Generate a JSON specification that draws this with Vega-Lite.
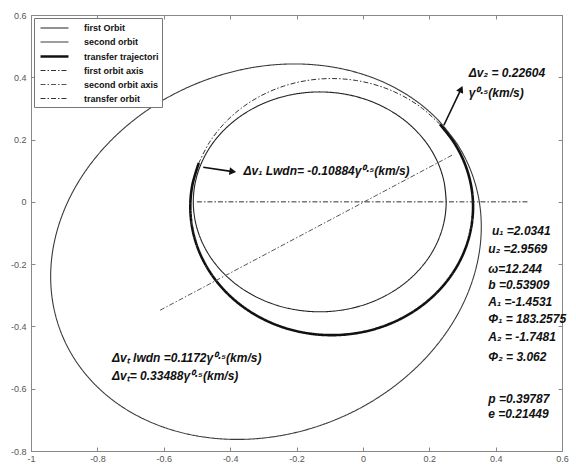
{
  "$schema": "https://vega.github.io/schema/vega-lite/v6.json",
  "width": 531,
  "height": 436,
  "autosize": {"type": "none"},
  "padding": {"left": 31, "top": 15, "right": 14, "bottom": 13},
  "background": "white",
  "config": {
    "view": {"stroke": "#888", "strokeWidth": 1},
    "font": "Liberation Sans",
    "legend": {
      "orient": "top-left", "offset": 3, "symbolType": "M-2.33,0H2.33", "symbolSize": 144,
      "symbolOffset": 10, "labelOffset": 22,
      "labelFont": "Liberation Sans", "labelFontSize": 9, "labelFontWeight": "bold", "labelColor": "#111",
      "fillColor": "white", "strokeColor": "#777", "padding": 3, "rowPadding": 2
    }
  },
  "datasets": {
    "orbits": [
      {"s": "second orbit", "i": 0, "x": 0.287, "y": 0.181},
      {"s": "second orbit", "i": 1, "x": 0.2274, "y": 0.2621},
      {"s": "second orbit", "i": 2, "x": 0.152, "y": 0.3304},
      {"s": "second orbit", "i": 3, "x": 0.063, "y": 0.3839},
      {"s": "second orbit", "i": 4, "x": -0.0367, "y": 0.4207},
      {"s": "second orbit", "i": 5, "x": -0.1441, "y": 0.44},
      {"s": "second orbit", "i": 6, "x": -0.2561, "y": 0.441},
      {"s": "second orbit", "i": 7, "x": -0.3691, "y": 0.4237},
      {"s": "second orbit", "i": 8, "x": -0.4798, "y": 0.3887},
      {"s": "second orbit", "i": 9, "x": -0.5848, "y": 0.3371},
      {"s": "second orbit", "i": 10, "x": -0.6808, "y": 0.2703},
      {"s": "second orbit", "i": 11, "x": -0.7651, "y": 0.1905},
      {"s": "second orbit", "i": 12, "x": -0.8351, "y": 0.1},
      {"s": "second orbit", "i": 13, "x": -0.8885, "y": 0.0016},
      {"s": "second orbit", "i": 14, "x": -0.9237, "y": -0.1017},
      {"s": "second orbit", "i": 15, "x": -0.9398, "y": -0.2067},
      {"s": "second orbit", "i": 16, "x": -0.9362, "y": -0.3104},
      {"s": "second orbit", "i": 17, "x": -0.913, "y": -0.4095},
      {"s": "second orbit", "i": 18, "x": -0.871, "y": -0.501},
      {"s": "second orbit", "i": 19, "x": -0.8114, "y": -0.5821},
      {"s": "second orbit", "i": 20, "x": -0.736, "y": -0.6504},
      {"s": "second orbit", "i": 21, "x": -0.647, "y": -0.7039},
      {"s": "second orbit", "i": 22, "x": -0.5473, "y": -0.7407},
      {"s": "second orbit", "i": 23, "x": -0.4399, "y": -0.76},
      {"s": "second orbit", "i": 24, "x": -0.3279, "y": -0.761},
      {"s": "second orbit", "i": 25, "x": -0.2149, "y": -0.7437},
      {"s": "second orbit", "i": 26, "x": -0.1042, "y": -0.7087},
      {"s": "second orbit", "i": 27, "x": 0.0008, "y": -0.6571},
      {"s": "second orbit", "i": 28, "x": 0.0968, "y": -0.5903},
      {"s": "second orbit", "i": 29, "x": 0.1811, "y": -0.5105},
      {"s": "second orbit", "i": 30, "x": 0.2511, "y": -0.42},
      {"s": "second orbit", "i": 31, "x": 0.3045, "y": -0.3216},
      {"s": "second orbit", "i": 32, "x": 0.3397, "y": -0.2183},
      {"s": "second orbit", "i": 33, "x": 0.3558, "y": -0.1133},
      {"s": "second orbit", "i": 34, "x": 0.3522, "y": -0.0096},
      {"s": "second orbit", "i": 35, "x": 0.329, "y": 0.0895},
      {"s": "second orbit", "i": 36, "x": 0.287, "y": 0.181},
      {"s": "second orbit", "i": 37, "x": 0.2274, "y": 0.2621},

      {"s": "first Orbit", "i": 0, "x": 0.251, "y": 0},
      {"s": "first Orbit", "i": 1, "x": 0.2452, "y": 0.0613},
      {"s": "first Orbit", "i": 2, "x": 0.228, "y": 0.1207},
      {"s": "first Orbit", "i": 3, "x": 0.2, "y": 0.1765},
      {"s": "first Orbit", "i": 4, "x": 0.1618, "y": 0.2269},
      {"s": "first Orbit", "i": 5, "x": 0.1149, "y": 0.2704},
      {"s": "first Orbit", "i": 6, "x": 0.0605, "y": 0.3057},
      {"s": "first Orbit", "i": 7, "x": 0.0003, "y": 0.3317},
      {"s": "first Orbit", "i": 8, "x": -0.0639, "y": 0.3476},
      {"s": "first Orbit", "i": 9, "x": -0.13, "y": 0.353},
      {"s": "first Orbit", "i": 10, "x": -0.1961, "y": 0.3476},
      {"s": "first Orbit", "i": 11, "x": -0.2603, "y": 0.3317},
      {"s": "first Orbit", "i": 12, "x": -0.3205, "y": 0.3057},
      {"s": "first Orbit", "i": 13, "x": -0.3749, "y": 0.2704},
      {"s": "first Orbit", "i": 14, "x": -0.4218, "y": 0.2269},
      {"s": "first Orbit", "i": 15, "x": -0.46, "y": 0.1765},
      {"s": "first Orbit", "i": 16, "x": -0.488, "y": 0.1207},
      {"s": "first Orbit", "i": 17, "x": -0.5052, "y": 0.0613},
      {"s": "first Orbit", "i": 18, "x": -0.511, "y": 0},
      {"s": "first Orbit", "i": 19, "x": -0.5052, "y": -0.0613},
      {"s": "first Orbit", "i": 20, "x": -0.488, "y": -0.1207},
      {"s": "first Orbit", "i": 21, "x": -0.46, "y": -0.1765},
      {"s": "first Orbit", "i": 22, "x": -0.4218, "y": -0.2269},
      {"s": "first Orbit", "i": 23, "x": -0.3749, "y": -0.2704},
      {"s": "first Orbit", "i": 24, "x": -0.3205, "y": -0.3057},
      {"s": "first Orbit", "i": 25, "x": -0.2603, "y": -0.3317},
      {"s": "first Orbit", "i": 26, "x": -0.1961, "y": -0.3476},
      {"s": "first Orbit", "i": 27, "x": -0.13, "y": -0.353},
      {"s": "first Orbit", "i": 28, "x": -0.0639, "y": -0.3476},
      {"s": "first Orbit", "i": 29, "x": 0.0003, "y": -0.3317},
      {"s": "first Orbit", "i": 30, "x": 0.0605, "y": -0.3057},
      {"s": "first Orbit", "i": 31, "x": 0.1149, "y": -0.2704},
      {"s": "first Orbit", "i": 32, "x": 0.1618, "y": -0.2269},
      {"s": "first Orbit", "i": 33, "x": 0.2, "y": -0.1765},
      {"s": "first Orbit", "i": 34, "x": 0.228, "y": -0.1207},
      {"s": "first Orbit", "i": 35, "x": 0.2452, "y": -0.0613},
      {"s": "first Orbit", "i": 36, "x": 0.251, "y": 0},
      {"s": "first Orbit", "i": 37, "x": 0.2452, "y": 0.0613},

      {"s": "transfer trajectori", "i": 0, "x": -0.4943, "y": 0.1249},
      {"s": "transfer trajectori", "i": 1, "x": -0.5135, "y": 0.0555},
      {"s": "transfer trajectori", "i": 2, "x": -0.52, "y": -0.016},
      {"s": "transfer trajectori", "i": 3, "x": -0.5135, "y": -0.0875},
      {"s": "transfer trajectori", "i": 4, "x": -0.4943, "y": -0.1569},
      {"s": "transfer trajectori", "i": 5, "x": -0.4629, "y": -0.222},
      {"s": "transfer trajectori", "i": 6, "x": -0.4203, "y": -0.2808},
      {"s": "transfer trajectori", "i": 7, "x": -0.3678, "y": -0.3316},
      {"s": "transfer trajectori", "i": 8, "x": -0.307, "y": -0.3728},
      {"s": "transfer trajectori", "i": 9, "x": -0.2397, "y": -0.4032},
      {"s": "transfer trajectori", "i": 10, "x": -0.168, "y": -0.4217},
      {"s": "transfer trajectori", "i": 11, "x": -0.094, "y": -0.428},
      {"s": "transfer trajectori", "i": 12, "x": -0.02, "y": -0.4217},
      {"s": "transfer trajectori", "i": 13, "x": 0.0517, "y": -0.4032},
      {"s": "transfer trajectori", "i": 14, "x": 0.119, "y": -0.3728},
      {"s": "transfer trajectori", "i": 15, "x": 0.1798, "y": -0.3316},
      {"s": "transfer trajectori", "i": 16, "x": 0.2323, "y": -0.2808},
      {"s": "transfer trajectori", "i": 17, "x": 0.2749, "y": -0.222},
      {"s": "transfer trajectori", "i": 18, "x": 0.3063, "y": -0.1569},
      {"s": "transfer trajectori", "i": 19, "x": 0.3255, "y": -0.0875},
      {"s": "transfer trajectori", "i": 20, "x": 0.332, "y": -0.016},
      {"s": "transfer trajectori", "i": 21, "x": 0.3255, "y": 0.0555},
      {"s": "transfer trajectori", "i": 22, "x": 0.3063, "y": 0.1249},
      {"s": "transfer trajectori", "i": 23, "x": 0.2749, "y": 0.19},
      {"s": "transfer trajectori", "i": 24, "x": 0.2323, "y": 0.2488},

      {"s": "first orbit axis", "i": 0, "x": -0.5, "y": 0},
      {"s": "first orbit axis", "i": 1, "x": 0.5, "y": 0},

      {"s": "second orbit axis", "i": 0, "x": -0.611, "y": -0.348},
      {"s": "second orbit axis", "i": 1, "x": 0.269, "y": 0.15},

      {"s": "transfer orbit", "i": 0, "x": 0.2323, "y": 0.2488},
      {"s": "transfer orbit", "i": 1, "x": 0.1798, "y": 0.2996},
      {"s": "transfer orbit", "i": 2, "x": 0.119, "y": 0.3408},
      {"s": "transfer orbit", "i": 3, "x": 0.0517, "y": 0.3712},
      {"s": "transfer orbit", "i": 4, "x": -0.02, "y": 0.3897},
      {"s": "transfer orbit", "i": 5, "x": -0.094, "y": 0.396},
      {"s": "transfer orbit", "i": 6, "x": -0.168, "y": 0.3897},
      {"s": "transfer orbit", "i": 7, "x": -0.2397, "y": 0.3712},
      {"s": "transfer orbit", "i": 8, "x": -0.307, "y": 0.3408},
      {"s": "transfer orbit", "i": 9, "x": -0.3678, "y": 0.2996},
      {"s": "transfer orbit", "i": 10, "x": -0.4203, "y": 0.2488},
      {"s": "transfer orbit", "i": 11, "x": -0.4629, "y": 0.19},
      {"s": "transfer orbit", "i": 12, "x": -0.4943, "y": 0.1249}
    ],
    "arrows": [
      {"x": -0.481, "y": 0.111, "x2": -0.397, "y2": 0.098},
      {"x": 0.244, "y": 0.246, "x2": 0.294, "y2": 0.358}
    ],
    "notes": [
      {"x": -0.36, "y": 0.1, "t": "Δv₁ Lwdn= -0.10884γ⁰·⁵(km/s)"},
      {"x": 0.319, "y": 0.413, "t": "Δv₂ = 0.22604"},
      {"x": 0.319, "y": 0.349, "t": "γ⁰·⁵(km/s)"},
      {"x": -0.756, "y": -0.502, "t": "Δvₜ lwdn =0.1172γ⁰·⁵(km/s)"},
      {"x": -0.756, "y": -0.56, "t": "Δvₜ= 0.33488γ⁰·⁵(km/s)"},
      {"x": 0.389, "y": -0.094, "t": "u₁ =2.0341"},
      {"x": 0.378, "y": -0.15, "t": "u₂ =2.9569"},
      {"x": 0.378, "y": -0.217, "t": "ω=12.244"},
      {"x": 0.378, "y": -0.268, "t": "b =0.53909"},
      {"x": 0.378, "y": -0.321, "t": "A₁ =-1.4531"},
      {"x": 0.378, "y": -0.375, "t": "Φ₁ = 183.2575"},
      {"x": 0.378, "y": -0.434, "t": "A₂ = -1.7481"},
      {"x": 0.378, "y": -0.498, "t": "Φ₂ = 3.062"},
      {"x": 0.378, "y": -0.632, "t": "p =0.39787"},
      {"x": 0.378, "y": -0.68, "t": "e =0.21449"}
    ]
  },
  "layer": [
    {
      "data": {"name": "orbits"},
      "mark": {"type": "line", "strokeCap": "butt", "interpolate": "catmull-rom"},
      "encoding": {
        "x": {"field": "x", "type": "quantitative", "scale": {"domain": [-1, 0.6], "nice": false, "zero": false},
          "axis": {"orient": "bottom", "title": null, "grid": false, "values": [-1, -0.8, -0.6, -0.4, -0.2, 0, 0.2, 0.4, 0.6], "format": "~g",
            "labelExpr": "replace(datum.label, '−', '-')", "domainColor": "#888", "tickColor": "#888", "tickSize": -4,
            "labelColor": "#555", "labelFontSize": 9, "labelPadding": 7, "labelFlush": false, "labelOverlap": false}},
        "y": {"field": "y", "type": "quantitative", "scale": {"domain": [-0.8, 0.6], "nice": false, "zero": false},
          "axis": {"orient": "left", "title": null, "grid": false, "values": [-0.8, -0.6, -0.4, -0.2, 0, 0.2, 0.4, 0.6], "format": "~g",
            "labelExpr": "replace(datum.label, '−', '-')", "domainColor": "#888", "tickColor": "#888", "tickSize": -4,
            "labelColor": "#555", "labelFontSize": 9, "labelPadding": 9, "labelFlush": false, "labelOverlap": false}},
        "order": {"field": "i"},
        "color": {"field": "s", "type": "nominal", "legend": {"title": null},
          "scale": {"domain": ["first Orbit", "second orbit", "transfer trajectori", "first orbit axis", "second orbit axis", "transfer orbit"],
            "range": ["#222222", "#3a3a3a", "#111111", "#333333", "#555555", "#333333"]}},
        "strokeDash": {"field": "s", "type": "nominal", "legend": {"title": null},
          "scale": {"domain": ["first Orbit", "second orbit", "transfer trajectori", "first orbit axis", "second orbit axis", "transfer orbit"],
            "range": [[1, 0], [1, 0], [1, 0], [5, 2, 1.5, 2], [5, 2, 1.5, 2], [5, 2, 1.5, 2]]}},
        "strokeWidth": {"field": "s", "type": "nominal", "legend": {"title": null},
          "scale": {"type": "ordinal", "domain": ["first Orbit", "second orbit", "transfer trajectori", "first orbit axis", "second orbit axis", "transfer orbit"],
            "range": [1.1, 1.1, 2.6, 1, 1, 1]}}
      }
    },
    {
      "data": {"name": "arrows"},
      "mark": {"type": "rule", "color": "#111", "strokeWidth": 1.6},
      "encoding": {
        "x": {"field": "x", "type": "quantitative", "axis": null},
        "y": {"field": "y", "type": "quantitative", "axis": null},
        "x2": {"field": "x2"},
        "y2": {"field": "y2"}
      }
    },
    {
      "data": {"values": [{"x": -0.392, "y": 0.097}]},
      "mark": {"type": "point", "shape": "triangle-right", "angle": 8, "size": 60, "filled": true, "color": "#111", "opacity": 1},
      "encoding": {
        "x": {"field": "x", "type": "quantitative", "axis": null},
        "y": {"field": "y", "type": "quantitative", "axis": null}
      }
    },
    {
      "data": {"values": [{"x": 0.296, "y": 0.362}]},
      "mark": {"type": "point", "shape": "triangle-up", "angle": 26, "size": 60, "filled": true, "color": "#111", "opacity": 1},
      "encoding": {
        "x": {"field": "x", "type": "quantitative", "axis": null},
        "y": {"field": "y", "type": "quantitative", "axis": null}
      }
    },
    {
      "data": {"name": "notes"},
      "mark": {"type": "text", "align": "left", "baseline": "middle", "font": "Liberation Sans", "fontStyle": "italic", "fontWeight": "bold", "fontSize": 12, "color": "#111"},
      "encoding": {
        "x": {"field": "x", "type": "quantitative",
          "axis": {"orient": "top", "title": null, "grid": false, "labels": false, "values": [-1, -0.8, -0.6, -0.4, -0.2, 0, 0.2, 0.4, 0.6], "domainColor": "#888", "tickColor": "#888", "tickSize": -4}},
        "y": {"field": "y", "type": "quantitative",
          "axis": {"orient": "right", "title": null, "grid": false, "labels": false, "values": [-0.8, -0.6, -0.4, -0.2, 0, 0.2, 0.4, 0.6], "domainColor": "#888", "tickColor": "#888", "tickSize": -4}},
        "text": {"field": "t"}
      }
    }
  ],
  "resolve": {"axis": {"x": "independent", "y": "independent"}}
}
